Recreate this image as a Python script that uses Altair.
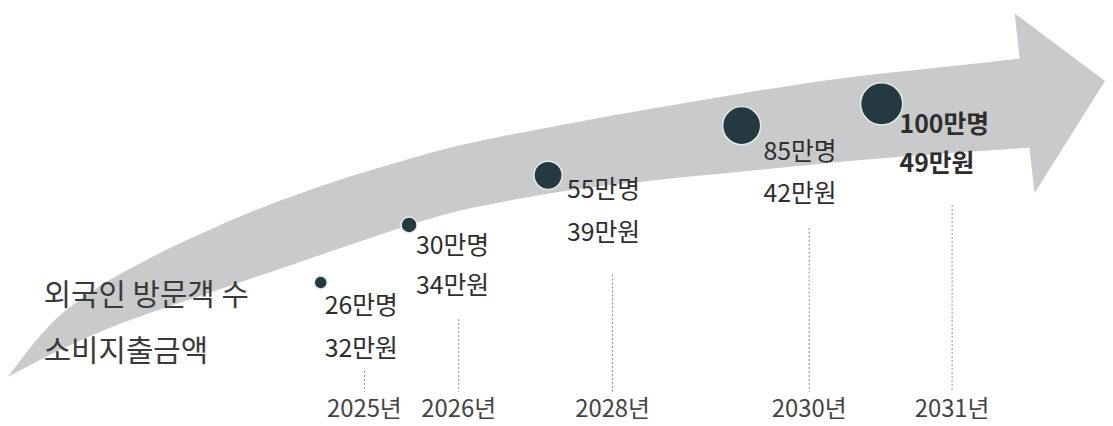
import altair as alt
import pandas as pd

# ---- data ----
years = ["2025년", "2026년", "2028년", "2030년", "2031년"]
visitors = [26, 30, 55, 85, 100]          # 만명
spending = [32, 34, 39, 42, 49]           # 만원
row_titles = ["외국인 방문객 수", "소비지출금액"]

# ---- layout (pixel positions of the infographic) ----
guide_x = [367, 462, 617, 815, 959]
circle_x = [323, 412, 552, 747, 888]
circle_y = [283, 225, 175, 125, 103]
label_x = [327, 419, 571, 769, 906]
label_y1 = [307, 246, 190, 152, 124]
label_y2 = [350, 287, 233, 194, 164]
guide_top = [372, 320, 275, 228, 205]
guide_bottom = 393
year_y = 411
title_x = 44
title_y = [297, 353]

# arrow outline
shaft_x = [8, 50, 100, 150, 200, 250, 300, 350, 400, 450, 500, 567, 650, 750, 850, 950, 1040]
shaft_top = [378, 326, 287, 259, 235, 213, 194, 177, 162, 148, 137, 124, 109, 92, 77, 66, 56]
shaft_bot = [378, 356, 333, 314, 297, 280, 263, 246, 229, 214, 203, 191, 181, 171, 161, 153, 147]
head_x = [1022, 1042, 1113]
head_top = [12, 27, 80]
head_bot = [12, 193, 80]

df = pd.DataFrame({
    "year": years,
    "visitors": visitors,
    "spending": spending,
    "vlabel": [f"{v}만명" for v in visitors],
    "slabel": [f"{s}만원" for s in spending],
    "bold": [False, False, False, False, True],
    "gx": guide_x, "cx": circle_x, "cy": circle_y,
    "lx": label_x, "ly1": label_y1, "ly2": label_y2,
    "gtop": guide_top, "gbot": [guide_bottom] * 5, "yy": [year_y] * 5,
})
shaft = pd.DataFrame({"x": shaft_x, "y": shaft_top, "y2": shaft_bot})
head = pd.DataFrame({"x": head_x, "y": head_top, "y2": head_bot})
titles = pd.DataFrame({"t": row_titles, "x": [title_x] * 2, "y": title_y})

W, H = 1097, 410
xs = alt.Scale(domain=[8, 8 + W], nice=False, zero=False)
ys = alt.Scale(domain=[8, 8 + H], nice=False, zero=False, reverse=True)
FONT = "Noto Sans CJK KR"
GRAY = "#c9cacb"

def X(f):
    return alt.X(f, type="quantitative", scale=xs, axis=None)

def Y(f):
    return alt.Y(f, type="quantitative", scale=ys, axis=None)

shaft_layer = alt.Chart(shaft).mark_area(color=GRAY, interpolate="monotone").encode(
    x=X("x"), y=Y("y"), y2="y2")
head_layer = alt.Chart(head).mark_area(color=GRAY, interpolate="linear").encode(
    x=X("x"), y=Y("y"), y2="y2")

guides = alt.Chart(df).mark_rule(color="#8a8a8a", strokeWidth=1, strokeDash=[2, 2]).encode(
    x=X("gx"), y=Y("gtop"), y2="gbot")

circles = alt.Chart(df).mark_circle(fill="#243a40", stroke="#e4ebed", strokeWidth=1.5,
                                    opacity=1).encode(
    x=X("cx"), y=Y("cy"),
    size=alt.Size("visitors:Q", scale=alt.Scale(domain=[22, 100], range=[80, 1800]), legend=None))

def labels(field, yfield, bold):
    return alt.Chart(df).transform_filter(
        f"datum.bold == {'true' if bold else 'false'}"
    ).mark_text(align="left", baseline="middle", font=FONT, fontSize=25,
                fontWeight="bold" if bold else "normal", color="#2e2e2e").encode(
        x=X("lx"), y=Y(yfield), text=f"{field}:N")

year_text = alt.Chart(df).mark_text(align="center", baseline="middle", font=FONT,
                                    fontSize=24, color="#444444").encode(
    x=X("gx"), y=Y("yy"), text="year:N")

title_text = alt.Chart(titles).mark_text(align="left", baseline="middle", font=FONT,
                                         fontSize=30, color="#3a3a3a").encode(
    x=X("x"), y=Y("y"), text="t:N")

chart = alt.layer(
    shaft_layer, head_layer, guides, circles,
    labels("vlabel", "ly1", False), labels("slabel", "ly2", False),
    labels("vlabel", "ly1", True), labels("slabel", "ly2", True),
    year_text, title_text,
).properties(width=W, height=H, padding=0, background="white").configure_view(stroke=None)

chart.save("out.html", embed_options={"renderer": "svg", "actions": False})
